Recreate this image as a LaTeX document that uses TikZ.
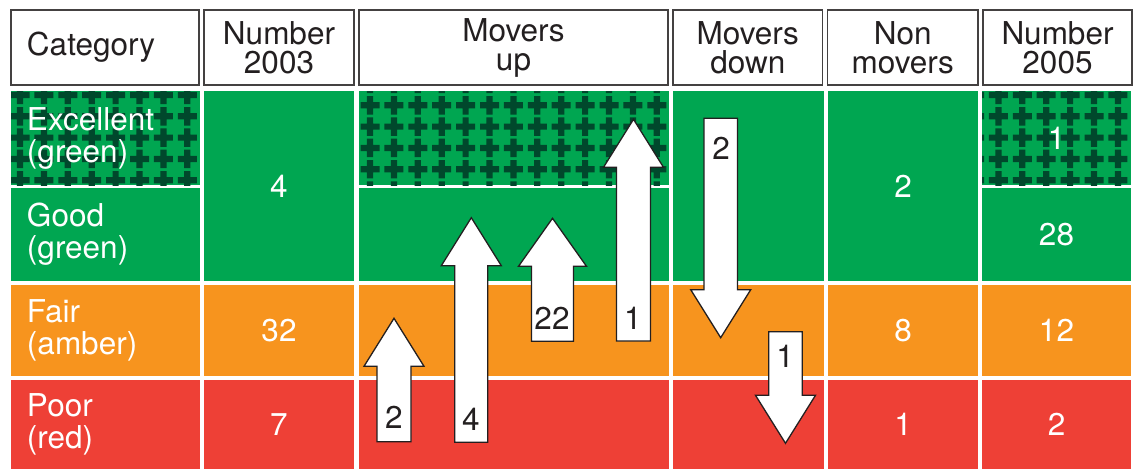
\documentclass[tikz,border=0pt]{standalone}
\usepackage{fontspec}
\setmainfont{TeX Gyre Heros}
\usepackage{xcolor}
\usetikzlibrary{positioning}

\definecolor{goodgreen}{RGB}{0,166,81}
\definecolor{crossgreen}{RGB}{0,72,44}
\definecolor{fairamber}{RGB}{247,148,30}
\definecolor{poorred}{RGB}{238,64,54}
\definecolor{inkgrey}{RGB}{35,31,32}

\tikzset{
  hcell/.style={draw=inkgrey!85, line width=1.3, fill=white, text=inkgrey,
    align=center, anchor=north west, inner sep=0, outer sep=0, minimum height=75,
    font=\fontsize{31.5}{29}\selectfont},
  cell/.style={anchor=north west, inner sep=0, outer sep=0, text=white, align=center},
  catcell/.style={cell, text width=157, inner xsep=16, align=left},
  blockarr/.style={fill=white, draw=inkgrey, line width=1.3, line join=miter},
  arrlabel/.style={text=inkgrey, inner sep=0}
}

% cross pattern clipped to a cell: node, x phase, y phase
\newcommand{\crossfill}[3]{%
  \begin{scope}
    \clip (#1.north west) rectangle (#1.south east);
    \foreach \i in {-1,...,13}{
      \foreach \j in {-1,...,5}{
        \fill[crossgreen] ({#2+23.9*\i},{#3+21.3*\j}) +(-9.5,-3.1) rectangle +(9.5,3.1)
          +(-3.1,-9.2) rectangle +(3.1,9.2);
      }
    }
  \end{scope}}

% block arrow: centre x, tail y, tip y, shaft half width, head half width
\newcommand{\blockarrow}[5]{%
  \draw[blockarr] ({#1-#4},#2) -- ({#1-#4},{#3+48*(#2-#3)/abs(#2-#3)})
    -- ({#1-#5},{#3+48*(#2-#3)/abs(#2-#3)}) -- (#1,#3)
    -- ({#1+#5},{#3+48*(#2-#3)/abs(#2-#3)}) -- ({#1+#4},{#3+48*(#2-#3)/abs(#2-#3)})
    -- ({#1+#4},#2) -- cycle;}

\begin{document}
\begin{tikzpicture}[x=1pt, y=-1pt, font=\fontsize{31.5}{32}\selectfont]
  \fill[white] (0,0) rectangle (1133,469);
  \useasboundingbox (0,0) rectangle (1133,469);

  % Header
  \node[hcell, text width=156, inner xsep=16, align=left] (hcat) at (11,10) {Category};
  \node[hcell, minimum width=150, right=5pt of hcat] (h03) {Number\\2003};
  \node[hcell, minimum width=309, right=5pt of h03] (hup) {Movers\\up};
  \node[hcell, minimum width=149.5, right=5pt of hup] (hdown) {Movers\\down};
  \node[hcell, minimum width=150.5, right=5pt of hdown] (hnon) {Non\\movers};
  \node[hcell, minimum width=149, right=5pt of hnon] (h05) {Number\\2005};

  % Category column
  \node[catcell, fill=goodgreen, minimum height=94] (catexc) at (11,91) {};
  \node[catcell, fill=goodgreen, minimum height=93] (catgood) at (11,188) {Good\\(green)};
  \node[catcell, fill=fairamber, minimum height=91] (catfair) at (11,285) {Fair\\(amber)};
  \node[catcell, fill=poorred, minimum height=89] (catpoor) at (11,380) {Poor\\(red)};

  % Number 2003
  \node[cell, fill=goodgreen, minimum width=150, minimum height=190] (n03top) at (204,91) {4};
  \node[cell, fill=fairamber, minimum width=150, minimum height=91] (n03fair) at (204,285) {32};
  \node[cell, fill=poorred, minimum width=150, minimum height=89] (n03poor) at (204,380) {7};

  % Movers up
  \node[cell, fill=goodgreen, minimum width=310, minimum height=94] (upexc) at (359,91) {};
  \node[cell, fill=goodgreen, minimum width=310, minimum height=93] (upgood) at (359,188) {};
  \node[cell, fill=fairamber, minimum width=310, minimum height=91] (upfair) at (359,285) {};
  \node[cell, fill=poorred, minimum width=310, minimum height=89] (uppoor) at (359,380) {};

  % Movers down
  \node[cell, fill=goodgreen, minimum width=151, minimum height=190] (dntop) at (673,91) {};
  \node[cell, fill=fairamber, minimum width=151, minimum height=91] (dnfair) at (673,285) {};
  \node[cell, fill=poorred, minimum width=151, minimum height=89] (dnpoor) at (673,380) {};

  % Non movers
  \node[cell, fill=goodgreen, minimum width=150, minimum height=190] (nontop) at (828,91) {2};
  \node[cell, fill=fairamber, minimum width=150, minimum height=91] (nonfair) at (828,285) {8};
  \node[cell, fill=poorred, minimum width=150, minimum height=89] (nonpoor) at (828,380) {1};

  % Number 2005
  \node[cell, fill=goodgreen, minimum width=149, minimum height=94] (n05exc) at (982,91) {};
  \node[cell, fill=goodgreen, minimum width=149, minimum height=93] (n05good) at (982,188) {28};
  \node[cell, fill=fairamber, minimum width=149, minimum height=91] (n05fair) at (982,285) {12};
  \node[cell, fill=poorred, minimum width=149, minimum height=89] (n05poor) at (982,380) {2};

  % Excellent pattern
  \crossfill{catexc}{20}{95}
  \crossfill{upexc}{370}{84}
  \crossfill{n05exc}{974.5}{95}
  \node[catcell, minimum height=94] (catexctxt) at (11,91) {Excellent\\(green)};
  \node[text=white, inner sep=0] (n05exctxt) at (n05exc.center) {1};

  % Arrows
  \blockarrow{394}{441.7}{318.3}{17}{30}
  \blockarrow{471.3}{442.3}{217.7}{16.5}{30}
  \blockarrow{552.5}{341.3}{218.3}{21}{34}
  \blockarrow{633.5}{341}{119.3}{17}{30}
  \blockarrow{720.7}{118.3}{337.7}{16.7}{30}
  \blockarrow{785.5}{331.7}{443.3}{16.8}{30}
  \node[arrlabel] (upa) at (394,417.5) {2};
  \node[arrlabel] (upb) at (471,419) {4};
  \node[arrlabel] (upc) at (552,318) {22};
  \node[arrlabel] (upd) at (633,318) {1};
  \node[arrlabel] (dna) at (721,148) {2};
  \node[arrlabel] (dnb) at (785,356.5) {1};
\end{tikzpicture}
\end{document}
